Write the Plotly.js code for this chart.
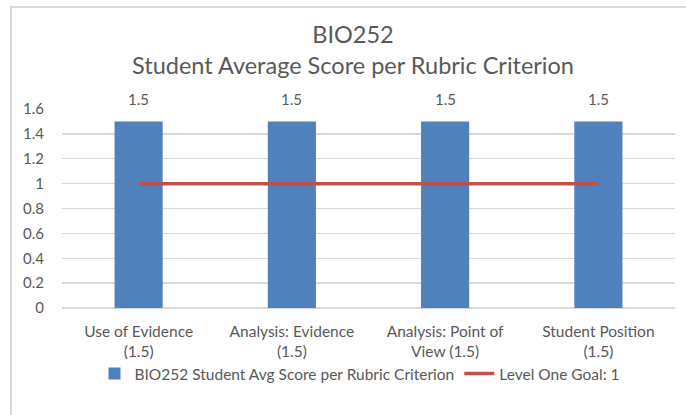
<!DOCTYPE html>
<html>
<head>
<meta charset="utf-8">
<script src="https://cdn.plot.ly/plotly-3.0.1.min.js"></script>
<style>
  html, body { margin:0; padding:0; background:#ffffff; }
  #frame { position:absolute; left:10px; top:6px; width:700px; height:420px;
           border-left:2px solid #d9d9d9; border-top:2px solid #d9d9d9; }
  #chart { position:absolute; left:0; top:0; width:686px; height:415px; }
</style>
</head>
<body>
<div id="frame"></div>
<div id="chart"></div>
<script>
// ---- data ----
const categories = ["Use of Evidence (1.5)", "Analysis: Evidence (1.5)", "Analysis: Point of View (1.5)", "Student Position (1.5)"];
const tickLabels = ["Use of Evidence<br>(1.5)", "Analysis: Evidence<br>(1.5)", "Analysis: Point of<br>View (1.5)", "Student Position<br>(1.5)"];
const avgScores = [1.5, 1.5, 1.5, 1.5];
const goalValues = [1, 1, 1, 1];
const barSeriesName = "BIO252 Student Avg Score per Rubric Criterion";
const goalSeriesName = "Level One Goal: 1";
const titleLines = ["BIO252", "Student Average Score per Rubric Criterion"];
const yTicks = [0, 0.2, 0.4, 0.6, 0.8, 1, 1.2, 1.4, 1.6];

const FONT = "Lato, 'Open Sans', sans-serif";
const GREY = "#595959";

const traces = [
  {
    type: "bar",
    x: categories,
    y: avgScores,
    name: barSeriesName,
    marker: { color: "#4f81bd" },
    width: 0.314,
    hoverinfo: "x+y"
  },
  {
    type: "scatter",
    mode: "lines",
    x: categories,
    y: goalValues,
    name: goalSeriesName,
    line: { color: "#c0504d", width: 3.5 },
    hoverinfo: "x+y"
  }
];

const annotations = categories.map((c, i) => ({
  x: c, y: avgScores[i], xref: "x", yref: "y",
  text: avgScores[i].toFixed(1),
  showarrow: false, yanchor: "bottom", yshift: 11,
  font: { family: FONT, size: 15, color: GREY }
}));

const layout = {
  width: 686, height: 415,
  margin: { l: 62, r: 11, t: 109, b: 107, pad: 0 },
  paper_bgcolor: "rgba(0,0,0,0)",
  plot_bgcolor: "rgba(0,0,0,0)",
  font: { family: FONT, color: GREY, size: 15 },
  title: {
    text: titleLines.join("<br>"),
    font: { family: FONT, size: 23.5, color: GREY },
    x: 353 / 686, xref: "container", xanchor: "center",
    y: 1 - 43 / 415, yref: "container", yanchor: "top"
  },
  xaxis: {
    type: "category",
    tickvals: categories,
    ticktext: tickLabels,
    showgrid: false, showline: false, zeroline: false,
    ticks: "", ticklen: 0,
    ticklabelstandoff: 12,
    tickfont: { family: FONT, size: 15.5, color: GREY },
    fixedrange: true
  },
  yaxis: {
    range: [0, 1.6],
    tickvals: yTicks,
    showgrid: true, gridcolor: "#d9d9d9", gridwidth: 1.3,
    zeroline: true, zerolinecolor: "#d9d9d9", zerolinewidth: 1.3,
    showline: false, ticks: "",
    ticklabelstandoff: 17,
    tickfont: { family: FONT, size: 15, color: GREY },
    fixedrange: true
  },
  showlegend: true,
  legend: {
    orientation: "h",
    x: 360 / 686, xref: "container", xanchor: "center",
    y: 1 - 357 / 415, yref: "container", yanchor: "top",
    font: { family: FONT, size: 15.5, color: GREY },
    traceorder: "normal",
    bgcolor: "rgba(0,0,0,0)"
  },
  annotations: annotations,
  bargap: 0.686
};

Plotly.newPlot("chart", traces, layout, { displayModeBar: false, staticPlot: true });
</script>
</body>
</html>
